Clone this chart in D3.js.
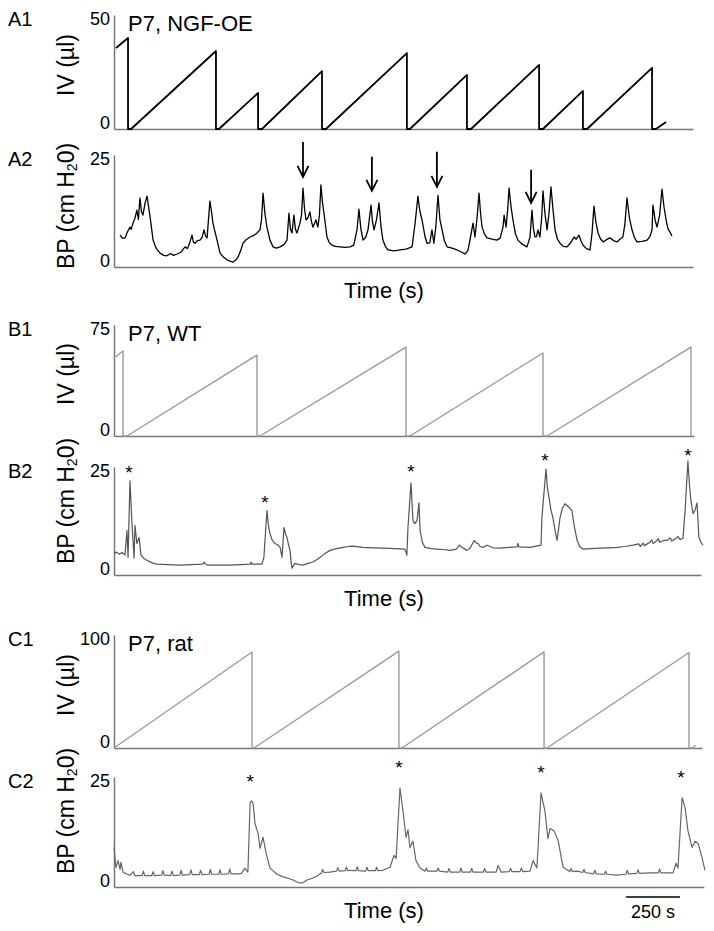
<!DOCTYPE html>
<html>

<head>
    <meta charset="UTF-8">
    <title>Bladder pressure traces</title>
    <style>
        body {
            margin: 0;
            background-color: #fff;
        }

        svg text {
            font-family: "Liberation Sans", Arial, sans-serif;
            fill: #000;
        }
    </style>
</head>

<body>
    <svg width="714" height="931"></svg>

    <script src="https://d3js.org/d3.v7.min.js"></script>

    <script>

        let width = 714, height = 931;
        let svg = d3.select("svg");

        // time in seconds, values in ul or cm H2O
        let a1Volume = [[9, 35.5], [65, 39.9], [65, 0], [79, 0], [472, 34.2], [472, 0], [486, 0], [667, 15.8], [667, 0], [685, 0],
            [963, 25.4], [963, 0], [981, 0], [1356, 33.3], [1356, 0], [1370, 0], [1634, 23.7], [1634, 0], [1653, 0],
            [1968, 28.1], [1968, 0], [1986, 0], [2171, 16.7], [2171, 0], [2190, 0], [2491, 26.8], [2491, 0], [2509, 0], [2556, 3.1]];

        let a2Pressure = [[28, 7.1], [40, 6.4], [51, 6.5], [62, 7.8], [74, 8.9], [80, 8.4], [88, 9.8], [97, 10.9], [106, 12.7], [113, 10.6],
            [120, 15.4], [127, 12.4], [134, 11.6], [144, 14.3], [153, 15.8], [160, 13.5], [167, 11.2], [181, 6.0], [195, 4.2], [213, 3.1],
            [230, 2.6], [245, 2.5], [262, 3.0], [275, 2.6], [292, 2.9], [310, 3.3], [329, 4.5], [340, 4.1], [352, 5.6], [361, 7.1],
            [368, 5.5], [375, 5.3], [386, 5.9], [398, 6.0], [408, 6.6], [417, 8.3], [424, 6.9], [431, 6.5], [444, 14.7], [451, 12.5],
            [458, 9.8], [477, 6.0], [491, 3.1], [505, 2.3], [523, 1.6], [537, 1.3], [551, 1.1], [563, 1.5], [574, 2.2], [586, 3.6],
            [597, 5.3], [612, 6.1], [630, 6.7], [646, 7.0], [662, 7.6], [676, 8.3], [683, 10.6], [690, 16.5], [699, 11.8], [708, 8.9],
            [722, 6.0], [736, 4.5], [752, 4.2], [769, 4.5], [786, 5.0], [801, 6.0], [810, 12.0], [817, 8.5], [824, 7.6], [833, 11.6],
            [840, 8.4], [847, 7.6], [861, 9.8], [868, 11.5], [875, 17.6], [882, 13.0], [889, 10.5], [898, 11.0], [907, 12.3], [914, 10.2],
            [921, 8.9], [935, 10.5], [944, 8.9], [951, 11.5], [958, 18.3], [965, 14.5], [972, 12.0], [986, 6.7], [997, 5.4], [1009, 4.9],
            [1025, 4.6], [1046, 4.5], [1070, 4.4], [1093, 4.5], [1110, 4.9], [1125, 8.3], [1134, 12.9], [1143, 8.5], [1153, 6.0], [1165, 6.6],
            [1176, 8.3], [1190, 13.8], [1197, 10.0], [1204, 8.3], [1215, 10.5], [1227, 14.3], [1236, 9.0], [1245, 6.0], [1257, 4.5], [1269, 3.8],
            [1296, 3.6], [1324, 3.8], [1352, 4.0], [1380, 4.5], [1394, 9.8], [1407, 15.8], [1416, 12.5], [1426, 10.5], [1440, 6.8], [1449, 5.3],
            [1462, 5.4], [1472, 8.3], [1481, 5.3], [1490, 9.0], [1500, 16.0], [1509, 10.5], [1519, 8.3], [1530, 5.8], [1542, 4.5], [1565, 4.2],
            [1588, 3.8], [1606, 3.4], [1625, 2.9], [1638, 3.6], [1648, 6.0], [1662, 9.8], [1671, 6.7], [1680, 10.5], [1690, 16.5], [1697, 12.0],
            [1704, 8.9], [1715, 7.4], [1727, 6.5], [1750, 6.2], [1773, 6.0], [1788, 6.5], [1801, 8.9], [1806, 11.6], [1815, 8.9], [1822, 12.5],
            [1829, 17.6], [1838, 13.5], [1847, 10.5], [1858, 7.5], [1870, 6.0], [1890, 5.1], [1912, 4.5], [1926, 6.7], [1935, 12.7], [1942, 8.5],
            [1949, 6.7], [1956, 6.8], [1963, 8.3], [1972, 6.7], [1980, 11.0], [1986, 17.0], [1995, 12.0], [2005, 8.3], [2014, 12.0], [2023, 17.9],
            [2032, 13.0], [2042, 8.3], [2053, 6.2], [2065, 5.3], [2080, 4.6], [2097, 4.5], [2114, 5.4], [2130, 6.7], [2140, 6.2], [2153, 7.1],
            [2162, 5.8], [2171, 4.9], [2187, 4.1], [2204, 3.8], [2213, 7.5], [2222, 13.6], [2231, 10.0], [2241, 7.6], [2252, 6.3], [2264, 5.6],
            [2280, 6.1], [2296, 6.5], [2312, 5.9], [2329, 5.6], [2342, 6.2], [2356, 6.7], [2365, 9.5], [2375, 15.4], [2386, 11.0], [2398, 8.3],
            [2410, 6.5], [2421, 5.6], [2445, 5.7], [2468, 6.0], [2481, 6.8], [2491, 8.3], [2495, 13.8], [2505, 10.5], [2514, 8.9], [2526, 11.5],
            [2537, 17.4], [2546, 13.5], [2556, 10.5], [2565, 8.5], [2574, 7.8], [2583, 6.9]];

        let b1Volume = [[0, 52.7], [42, 57.4], [42, 0], [60, 0], [662, 54.7], [662, 0], [676, 0], [1352, 60.1], [1352, 0], [1370, 0],
            [1986, 56.1], [1986, 0], [2005, 0], [2671, 60.1], [2671, 0]];

        let b2Pressure = [[0, 5.0], [12, 5.3], [25, 4.8], [38, 5.2], [51, 4.6], [60, 10.3], [65, 4.1], [74, 21.8], [83, 12.0], [88, 8.0],
            [93, 3.9], [97, 11.5], [106, 7.3], [116, 8.7], [125, 4.6], [139, 3.8], [153, 3.4], [176, 2.8], [199, 2.5], [250, 2.4],
            [306, 2.3], [360, 2.4], [412, 2.5], [417, 3.0], [421, 2.7], [431, 2.3], [480, 2.3], [537, 2.3], [585, 2.4], [630, 2.5],
            [634, 3.0], [638, 2.5], [685, 2.5], [694, 4.1], [708, 14.9], [715, 11.5], [722, 9.6], [733, 8.0], [745, 7.3], [758, 7.0],
            [769, 6.4], [778, 4.1], [787, 11.0], [794, 9.5], [801, 8.7], [808, 7.0], [815, 5.7], [820, 3.0], [824, 1.6], [838, 2.7],
            [856, 2.4], [875, 2.3], [898, 2.7], [921, 3.0], [940, 3.6], [954, 4.1], [977, 5.0], [1000, 5.7], [1030, 6.1], [1060, 6.4],
            [1085, 6.6], [1106, 6.7], [1150, 6.4], [1200, 6.3], [1245, 6.2], [1300, 6.1], [1347, 6.0], [1356, 4.6], [1361, 11.0], [1375, 21.3],
            [1384, 12.6], [1393, 11.9], [1403, 12.6], [1412, 16.7], [1417, 10.3], [1428, 7.5], [1440, 6.4], [1470, 6.1], [1495, 6.0], [1525, 5.9],
            [1556, 5.7], [1585, 6.0], [1600, 6.9], [1611, 6.4], [1634, 5.7], [1650, 6.3], [1667, 8.0], [1676, 7.5], [1685, 7.3], [1695, 6.6],
            [1708, 6.4], [1727, 6.9], [1755, 6.3], [1787, 6.2], [1830, 6.4], [1866, 6.5], [1870, 7.3], [1874, 6.5], [1926, 6.4], [1977, 6.9],
            [1981, 13.3], [2000, 24.5], [2007, 20.0], [2014, 17.9], [2023, 15.0], [2032, 13.3], [2042, 10.3], [2051, 8.0], [2058, 10.5], [2065, 13.3],
            [2076, 15.5], [2088, 16.5], [2104, 15.8], [2120, 14.9], [2132, 11.0], [2144, 8.0], [2157, 6.5], [2171, 6.0], [2210, 6.1], [2250, 6.2],
            [2290, 6.3], [2329, 6.4], [2365, 6.6], [2403, 6.9], [2430, 7.2], [2436, 6.6], [2450, 7.4], [2456, 6.8], [2481, 7.6], [2490, 8.1],
            [2496, 7.3], [2510, 7.8], [2520, 8.4], [2526, 7.6], [2545, 8.0], [2560, 8.0], [2575, 8.6], [2582, 7.9], [2600, 8.4], [2612, 8.9],
            [2620, 8.2], [2634, 8.5], [2644, 14.9], [2657, 26.4], [2664, 21.0], [2671, 17.2], [2681, 14.2], [2690, 15.0], [2699, 16.7], [2708, 8.7],
            [2718, 7.5], [2727, 6.9]];

        let c1Volume = [[0, 0], [639, 85], [639, 0], [648, 0], [1319, 85.8], [1319, 0], [1333, 0], [1991, 85], [1991, 0], [2005, 0],
            [2662, 84.5], [2662, 0], [2680, 0], [2692, 2.5]];

        let c2Pressure = [[0, 9.0], [9, 4.5], [19, 6.0], [28, 4.0], [32, 5.6], [42, 3.4], [60, 2.9], [74, 2.7], [90, 3.5], [96, 2.6],
            [130, 2.6], [136, 3.6], [142, 2.6], [175, 2.6], [181, 3.5], [187, 2.6], [220, 2.7], [226, 3.7], [232, 2.7], [262, 2.6],
            [268, 3.6], [274, 2.6], [305, 2.7], [311, 3.8], [317, 2.7], [350, 2.8], [356, 3.9], [362, 2.8], [395, 2.8], [401, 3.8],
            [407, 2.8], [440, 2.9], [446, 4.0], [452, 2.9], [485, 2.9], [491, 3.9], [497, 2.9], [530, 3.0], [536, 4.1], [542, 3.0],
            [575, 3.0], [590, 3.1], [606, 4.3], [620, 3.4], [630, 19.1], [637, 19.6], [644, 18.9], [653, 14.4], [667, 12.2], [676, 8.8],
            [690, 11.3], [704, 7.7], [722, 4.3], [755, 2.9], [782, 2.3], [805, 2.0], [829, 1.6], [845, 1.2], [861, 0.9], [876, 1.0],
            [894, 1.6], [918, 2.0], [940, 2.5], [960, 3.2], [966, 4.0], [972, 3.3], [1000, 3.4], [1030, 3.6], [1036, 4.4], [1042, 3.6],
            [1070, 3.7], [1076, 4.5], [1082, 3.7], [1093, 3.8], [1120, 3.7], [1126, 4.6], [1132, 3.7], [1165, 3.6], [1171, 4.5], [1177, 3.7],
            [1210, 3.7], [1216, 4.5], [1222, 3.7], [1245, 3.8], [1278, 4.5], [1296, 7.2], [1306, 6.5], [1324, 22.5], [1338, 17.3], [1352, 11.3],
            [1361, 13.0], [1370, 9.0], [1384, 10.4], [1398, 6.0], [1417, 4.3], [1440, 3.6], [1446, 4.3], [1452, 3.6], [1495, 3.6], [1501, 4.3],
            [1507, 3.6], [1545, 3.4], [1551, 4.2], [1557, 3.4], [1600, 3.4], [1606, 4.3], [1612, 3.4], [1650, 3.4], [1656, 4.2], [1662, 3.4],
            [1710, 3.4], [1716, 4.2], [1722, 3.4], [1769, 3.4], [1778, 4.9], [1792, 3.4], [1830, 3.5], [1836, 4.2], [1842, 3.5], [1880, 3.5],
            [1886, 4.3], [1892, 3.5], [1926, 3.6], [1940, 6.0], [1958, 4.3], [1977, 21.4], [1995, 17.3], [2009, 11.0], [2019, 13.3], [2037, 12.8],
            [2056, 10.6], [2079, 4.5], [2110, 3.5], [2116, 4.2], [2122, 3.5], [2144, 3.6], [2170, 3.3], [2176, 4.0], [2182, 3.3], [2220, 3.0],
            [2226, 3.8], [2232, 3.0], [2270, 2.9], [2276, 3.6], [2282, 2.9], [2329, 2.7], [2370, 2.9], [2376, 3.8], [2382, 3.0], [2420, 3.1],
            [2426, 3.9], [2432, 3.1], [2481, 3.2], [2520, 3.2], [2526, 4.1], [2532, 3.2], [2560, 3.2], [2588, 3.2], [2602, 5.4], [2611, 4.3],
            [2630, 20.3], [2644, 18.0], [2657, 12.8], [2676, 9.0], [2690, 10.4], [2704, 9.9], [2722, 6.8], [2736, 3.8]];

        // arrows in A2: [time, tail value, tip value]
        let a2Arrows = [[875, 27.9, 20.1], [1194, 24.6, 17.0], [1495, 25.7, 17.9], [1931, 21.7, 14.3]];
        // asterisks: [time, value]
        let b2Stars = [[69, 24.8], [699, 17.9], [1375, 25.0], [1995, 27.5], [2657, 28.7]];
        let c2Stars = [[630, 25.0], [1319, 28.2], [1977, 27.0], [2625, 25.9]];

        let scaleBar = [2370, 2620]; // 250 s

        // layout
        let x0 = 114, pxPerSec = 0.216;
        let panels = [
            { id: "A1", top: 15, bottom: 129, max: 50, end: 2681, data: a1Volume, kind: "iv", color: "#000", lw: 1.8, title: "P7, NGF-OE", labelY: 65 },
            { id: "A2", top: 155, bottom: 267, max: 25, end: 2681, data: a2Pressure, kind: "bp", color: "#000", lw: 1.3, labelY: 206 },
            { id: "B1", top: 325, bottom: 436, max: 75, end: 2685, data: b1Volume, kind: "iv", color: "#9a9a9a", lw: 1.4, title: "P7, WT", labelY: 374 },
            { id: "B2", top: 467, bottom: 575, max: 25, end: 2718, data: b2Pressure, kind: "bp", color: "#555", lw: 1.2, labelY: 501 },
            { id: "C1", top: 635, bottom: 748, max: 100, end: 2722, data: c1Volume, kind: "iv", color: "#9a9a9a", lw: 1.4, title: "P7, rat", labelY: 685 },
            { id: "C2", top: 777, bottom: 887, max: 25, end: 2731, data: c2Pressure, kind: "bp", color: "#666", lw: 1.2, labelY: 811 }
        ];

        let scales = {};

        panels.forEach(p => {
            let x = d3.scaleLinear().domain([0, p.end]).range([x0, x0 + p.end * pxPerSec]);
            let y = d3.scaleLinear().domain([0, p.max]).range([p.bottom, p.top]);
            scales[p.id] = { x: x, y: y };

            let g = svg.append("g").attr("id", p.id);

            // axes without ticks
            g.append("g")
                .attr("transform", "translate(0," + p.bottom + ")")
                .call(d3.axisBottom(x).tickValues([]).tickSizeOuter(0));
            g.append("g")
                .attr("transform", "translate(" + x0 + ",0)")
                .call(d3.axisLeft(y).tickValues([]).tickSizeOuter(0));
            g.selectAll(".domain").attr("stroke", "#777").attr("stroke-width", 1.5);

            // tick labels (0 and max)
            g.append("text").attr("x", 110).attr("y", p.top + 10)
                .attr("text-anchor", "end").style("font-size", "18px").text(p.max);
            g.append("text").attr("x", 110).attr("y", p.bottom)
                .attr("text-anchor", "end").style("font-size", "18px").text(0);

            // panel letter
            g.append("text").attr("x", 8).attr("y", p.top + 11)
                .style("font-size", "20px").text(p.id);

            // y label
            let yl = g.append("text")
                .attr("transform", "translate(66," + p.labelY + ") rotate(-90)")
                .attr("text-anchor", "middle")
                .attr("dominant-baseline", "central")
                .style("font-size", "23px");
            if (p.kind == "iv") {
                yl.text("IV (\u00b5l)");
            } else {
                yl.append("tspan").text("BP (cm H");
                yl.append("tspan").attr("dy", 6).style("font-size", "14px").text("2");
                yl.append("tspan").attr("dy", -6).text("0)");
            }

            if (p.title) {
                g.append("text").attr("x", 128).attr("y", p.top + 16)
                    .style("font-size", "22px").text(p.title);
            }

            if (p.kind == "bp") {
                g.append("text").attr("x", 384).attr("y", p.bottom + 31)
                    .attr("text-anchor", "middle").style("font-size", "22px").text("Time (s)");
            }

            let line = d3.line().x(d => x(d[0])).y(d => y(d[1]));
            g.append("path")
                .datum(p.data)
                .attr("d", line)
                .attr("fill", "none")
                .attr("stroke", p.color)
                .attr("stroke-width", p.lw)
                .attr("stroke-linejoin", "round");
        });

        // arrows over A2
        let sa = scales["A2"];
        let arrows = svg.append("g").attr("stroke", "#000").attr("stroke-width", 1.8).attr("fill", "none");
        a2Arrows.forEach(a => {
            let ax = sa.x(a[0]), y1 = sa.y(a[1]), y2 = sa.y(a[2]);
            arrows.append("line").attr("x1", ax).attr("x2", ax).attr("y1", y1).attr("y2", y2);
            arrows.append("path")
                .attr("d", "M" + (ax - 5.5) + "," + (y2 - 11) + "L" + ax + "," + y2 + "L" + (ax + 5.5) + "," + (y2 - 11));
        });

        // asterisks
        function stars(id, list) {
            let s = scales[id];
            svg.append("g").selectAll("text")
                .data(list)
                .enter()
                .append("text")
                .attr("x", d => s.x(d[0]))
                .attr("y", d => s.y(d[1]) + 11)
                .attr("text-anchor", "middle")
                .style("font-size", "19px")
                .text("*");
        }
        stars("B2", b2Stars);
        stars("C2", c2Stars);

        // scale bar
        let sc = scales["C2"];
        svg.append("line")
            .attr("x1", sc.x(scaleBar[0])).attr("x2", sc.x(scaleBar[1]))
            .attr("y1", 897).attr("y2", 897)
            .attr("stroke", "#000").attr("stroke-width", 1.5);
        svg.append("text")
            .attr("x", (sc.x(scaleBar[0]) + sc.x(scaleBar[1])) / 2)
            .attr("y", 918)
            .attr("text-anchor", "middle")
            .style("font-size", "18px")
            .text((scaleBar[1] - scaleBar[0]) + " s");

    </script>

</body>

</html>
